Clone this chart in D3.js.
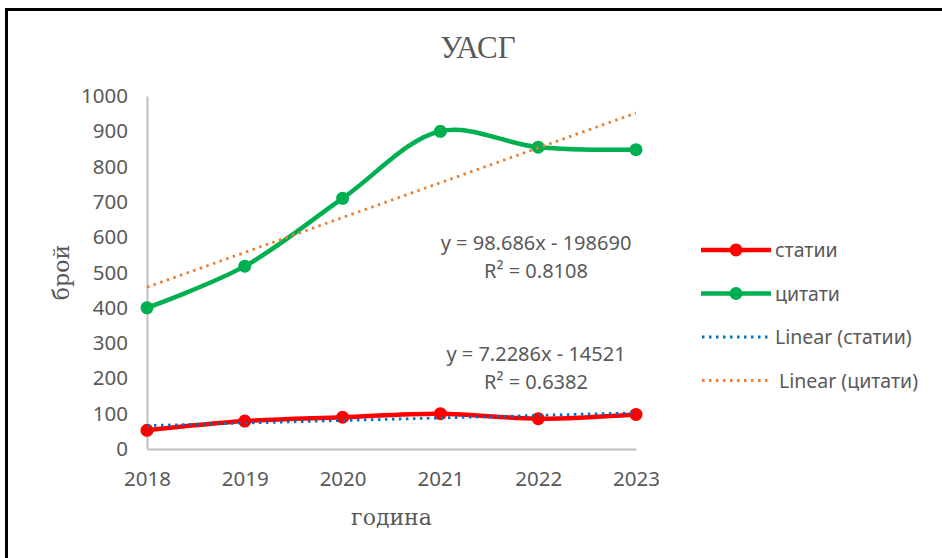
<!DOCTYPE html>
<html>
<head>
<meta charset="utf-8">
<script src="https://cdn.jsdelivr.net/npm/d3@7"></script>
<style>
  body { margin: 0; background: #fff; }
  text { fill: #595959; }
</style>
</head>
<body>
<div id="chart-area"></div>
<script>
var years = [2018, 2019, 2020, 2021, 2022, 2023];
var statii = [53, 79, 90, 100, 86, 98];
var citati = [400, 518, 710, 900, 855, 848];
var yTicks = [0, 100, 200, 300, 400, 500, 600, 700, 800, 900, 1000];
// trendline coefficients as printed on the chart
var trendStatii = [7.2286, -14521];
var trendCitati = [98.686, -198690];
var eqStatii = ["y = 7.2286x - 14521", "R² = 0.6382"];
var eqCitati = ["y = 98.686x - 198690", "R² = 0.8108"];
var legendNames = ["статии", "цитати", "Linear (статии)", "Linear (цитати)"];

var W = 942, H = 558;
var margin = {top: 96, left: 147, bottom: 109, right: 306},
    width = W - margin.left - margin.right,
    height = H - margin.top - margin.bottom;

var svg = d3.select("#chart-area").append("svg")
    .attr("width", W)
    .attr("height", H);

// frame
svg.append("line").attr("x1", 5).attr("x2", W).attr("y1", 9.5).attr("y2", 9.5)
    .attr("stroke", "#000").attr("stroke-width", 3);
svg.append("line").attr("x1", 6.5).attr("x2", 6.5).attr("y1", 8).attr("y2", H)
    .attr("stroke", "#000").attr("stroke-width", 3);

var g = svg.append("g")
    .attr("transform", "translate(" + margin.left + ", " + margin.top + ")");

var x = d3.scaleLinear().domain([2018, 2023]).range([0, width]);
var y = d3.scaleLinear().domain([0, 1000]).range([height, 0]);

var yAxis = g.append("g").call(d3.axisLeft(y).tickValues(yTicks).tickFormat(d3.format("d"))
    .tickSize(0).tickPadding(19));
var xAxis = g.append("g").attr("transform", "translate(0, " + height + ")")
    .call(d3.axisBottom(x).tickValues(years).tickFormat(d3.format("d")).tickSize(0).tickPadding(22));
[xAxis, yAxis].forEach(function(a) {
    a.select(".domain").attr("stroke", "#bfbfbf").attr("stroke-width", 2);
    a.selectAll("text").style("font-family", "'Noto Sans', sans-serif").style("font-size", "20.5px")
        .style("fill", "#595959");
});

// trendlines
function trendLine(c, color) {
    g.append("line")
        .attr("x1", x(years[0])).attr("y1", y(c[0] * years[0] + c[1]))
        .attr("x2", x(years[years.length - 1])).attr("y2", y(c[0] * years[years.length - 1] + c[1]))
        .attr("stroke", color).attr("stroke-width", 2.8)
        .attr("stroke-dasharray", "2.5,4.5");
}

var line = d3.line()
    .x(function(d) { return x(d[0]); })
    .y(function(d) { return y(d[1]); })
    .curve(d3.curveCatmullRom.alpha(0.5));

function series(vals, color) {
    var pts = years.map(function(yr, i) { return [yr, vals[i]]; });
    g.append("path")
        .attr("fill", "none")
        .attr("stroke", color)
        .attr("stroke-width", 4.5)
        .attr("d", line(pts));
    g.selectAll(null).data(pts).enter().append("circle")
        .attr("cx", function(d) { return x(d[0]); })
        .attr("cy", function(d) { return y(d[1]); })
        .attr("r", 6.5)
        .attr("fill", color);
}

series(statii, "#ff0000");
series(citati, "#00b050");
trendLine(trendStatii, "#0070c0");
trendLine(trendCitati, "#ed7d31");

// equations
function eq(lines, cx, cy) {
    lines.forEach(function(t, i) {
        g.append("text").attr("x", cx).attr("y", cy + i * 28)
            .attr("text-anchor", "middle")
            .style("font-family", "'Noto Sans', sans-serif").style("font-size", "20px")
            .text(t);
    });
}
eq(eqCitati, 536 - margin.left, 250 - margin.top);
eq(eqStatii, 536 - margin.left, 361 - margin.top);

// title and axis titles
svg.append("text").attr("x", 478).attr("y", 58).attr("text-anchor", "middle")
    .style("font-family", "'Liberation Serif', serif").style("font-size", "31px")
    .text("УАСГ");
svg.append("text").attr("transform", "translate(69, " + (margin.top + height / 2) + ") rotate(-90)")
    .attr("text-anchor", "middle")
    .style("font-family", "'DejaVu Serif', serif").style("font-size", "22px")
    .text("брой");
svg.append("text").attr("x", margin.left + width / 2).attr("y", 525).attr("text-anchor", "middle")
    .style("font-family", "'DejaVu Serif', serif").style("font-size", "22px")
    .text("година");

// legend
var colors = ["#ff0000", "#00b050", "#0070c0", "#ed7d31"];
var leg = svg.append("g").attr("transform", "translate(701, 250)");
legendNames.forEach(function(name, i) {
    var row = leg.append("g").attr("transform", "translate(0, " + (i * 43.5) + ")");
    if (i < 2) {
        row.append("line").attr("x1", 0).attr("x2", 70).attr("stroke", colors[i]).attr("stroke-width", 4.5);
        row.append("circle").attr("cx", 35).attr("r", 6.5).attr("fill", colors[i]);
    } else {
        row.append("line").attr("x1", 1).attr("x2", 70).attr("stroke", colors[i]).attr("stroke-width", 2.8)
            .attr("stroke-dasharray", "2.5,4.5");
    }
    row.append("text").attr("x", i < 3 ? 74 : 78).attr("y", 7)
        .style("font-family", "'Noto Sans', sans-serif").style("font-size", "19.5px")
        .text(name);
});
</script>
</body>
</html>
